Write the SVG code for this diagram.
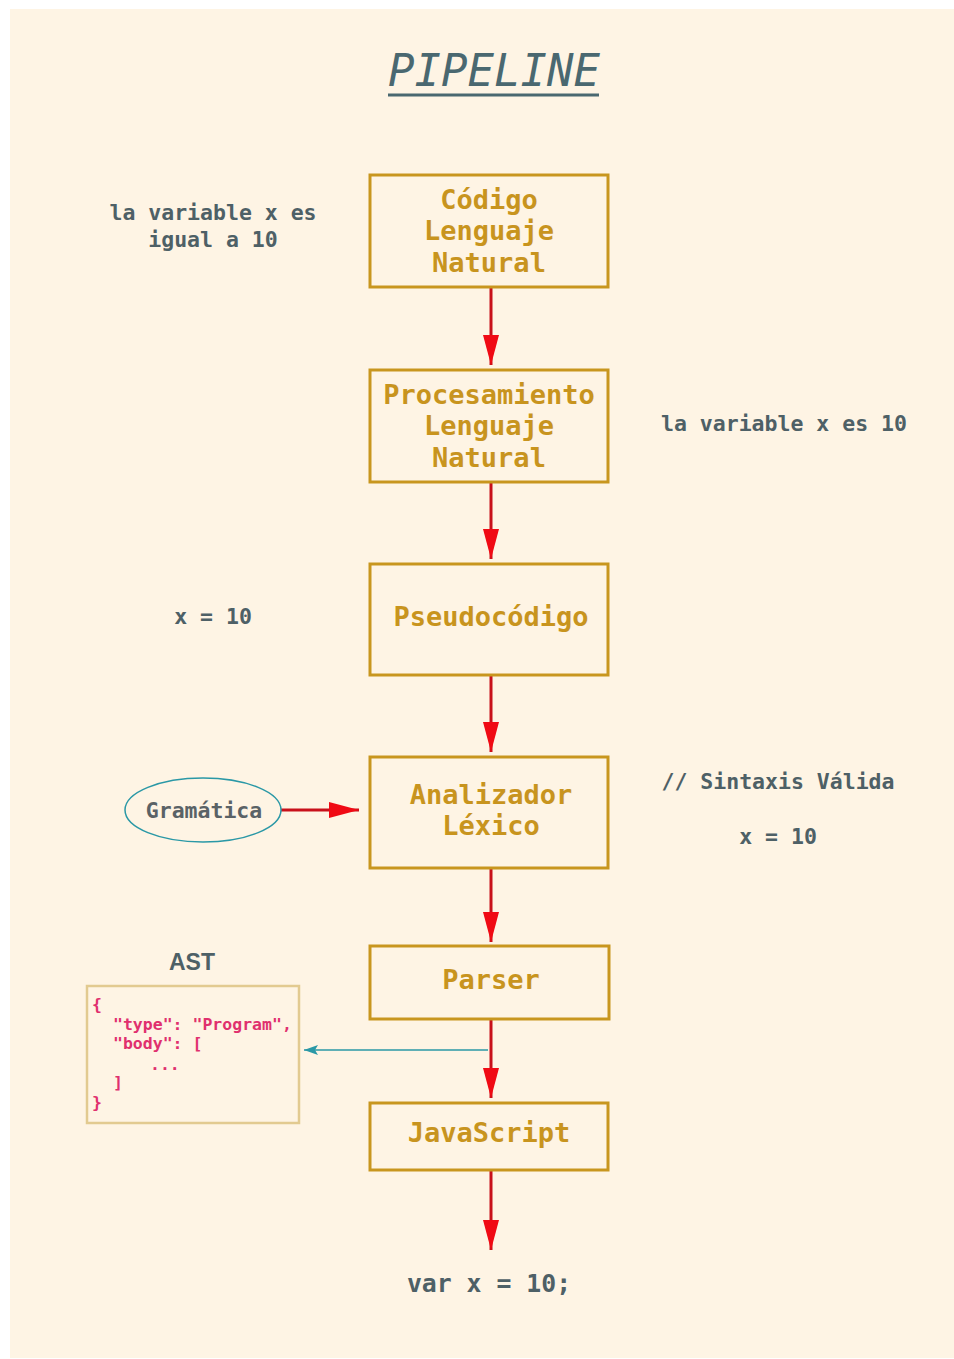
<svg xmlns="http://www.w3.org/2000/svg" width="954" height="1359" viewBox="0 0 954 1359">
<defs>
<style>
.box{fill:none;stroke:#C8961E;stroke-width:3}
.bt{font-family:"DejaVu Sans Mono","Liberation Mono",monospace;font-weight:bold;font-size:27px;fill:#C8941E;text-anchor:middle}
.gt{font-family:"DejaVu Sans Mono","Liberation Mono",monospace;font-weight:bold;font-size:21.5px;fill:#4E6066;text-anchor:middle}
.code{font-family:"DejaVu Sans Mono","Liberation Mono",monospace;font-weight:bold;font-size:16.5px;fill:#E0306E}
.red{stroke:#C8101A;stroke-width:3;fill:none}
</style>
<marker id="ah" viewBox="0 0 30 16" refX="30" refY="8" markerWidth="30" markerHeight="16" markerUnits="userSpaceOnUse" orient="auto">
<path d="M0,0 L30,8 L0,16 Z" fill="#F00A14"/>
</marker>
<marker id="ahT" viewBox="0 0 14 10" refX="14" refY="5" markerWidth="14" markerHeight="10" markerUnits="userSpaceOnUse" orient="auto">
<path d="M0,0 L14,5 L0,10 L3,5 Z" fill="#2A98A6"/>
</marker>
</defs>
<rect x="0" y="0" width="954" height="1359" fill="#FFFFFF"/>
<rect x="10" y="9" width="944" height="1349" fill="#FEF4E4"/>

<g id="title">
<text x="494" y="86" font-family="DejaVu Sans Mono, Liberation Mono, monospace" font-style="italic" font-size="44" fill="#4A6870" text-anchor="middle">PIPELINE</text>
<line x1="388" y1="95" x2="599" y2="95" stroke="#4A6870" stroke-width="3"/>
</g>

<g id="connectors">
<line class="red" x1="491" y1="287" x2="491" y2="365" marker-end="url(#ah)"/>
<line class="red" x1="491" y1="482" x2="491" y2="559" marker-end="url(#ah)"/>
<line class="red" x1="491" y1="675" x2="491" y2="752" marker-end="url(#ah)"/>
<line class="red" x1="491" y1="868" x2="491" y2="942" marker-end="url(#ah)"/>
<line class="red" x1="491" y1="1019" x2="491" y2="1098" marker-end="url(#ah)"/>
<line class="red" x1="491" y1="1170" x2="491" y2="1250" marker-end="url(#ah)"/>
<line class="red" x1="281" y1="810" x2="359" y2="810" marker-end="url(#ah)"/>
<line x1="488" y1="1050" x2="304" y2="1050" stroke="#2A98A6" stroke-width="1.5" marker-end="url(#ahT)"/>
</g>

<g id="codigo">
<rect class="box" x="370" y="175" width="238" height="112"/>
<text class="bt" x="489" y="209">Código</text>
<text class="bt" x="489" y="240">Lenguaje</text>
<text class="bt" x="489" y="272">Natural</text>
</g>
<g id="procesamiento">
<rect class="box" x="370" y="370" width="238" height="112"/>
<text class="bt" x="489" y="404">Procesamiento</text>
<text class="bt" x="489" y="435">Lenguaje</text>
<text class="bt" x="489" y="467">Natural</text>
</g>
<g id="pseudocodigo">
<rect class="box" x="370" y="564" width="238" height="111"/>
<text class="bt" x="491" y="626">Pseudocódigo</text>
</g>
<g id="lexico">
<rect class="box" x="370" y="757" width="238" height="111"/>
<text class="bt" x="491" y="804">Analizador</text>
<text class="bt" x="491" y="835">Léxico</text>
</g>
<g id="parser">
<rect class="box" x="370" y="946" width="239" height="73"/>
<text class="bt" x="491" y="989">Parser</text>
</g>
<g id="javascript">
<rect class="box" x="370" y="1103" width="238" height="67"/>
<text class="bt" x="489" y="1142">JavaScript</text>
</g>

<g id="gramatica">
<ellipse cx="203" cy="810" rx="78" ry="32" fill="none" stroke="#2A98A6" stroke-width="1.5"/>
<text class="gt" x="204" y="818" style="fill:#5A6266">Gramática</text>
</g>

<g id="notes">
<text class="gt" x="213" y="220">la variable x es</text>
<text class="gt" x="213" y="247">igual a 10</text>
<text class="gt" x="784" y="431">la variable x es 10</text>
<text class="gt" x="213" y="624">x = 10</text>
<text class="gt" x="778" y="789">// Sintaxis Válida</text>
<text class="gt" x="778" y="844">x = 10</text>
<text class="gt" x="489" y="1292" style="font-size:24.8px">var x = 10;</text>
</g>

<g id="ast">
<text x="192" y="970" font-family="Liberation Sans, Arial, sans-serif" font-weight="bold" font-size="23" fill="#4E6066" text-anchor="middle">AST</text>
<rect x="87" y="986" width="212" height="137" fill="#FEF4E4" stroke="#E2CA90" stroke-width="2.5"/>
<text class="code" x="92" y="1010">{</text>
<text class="code" x="113" y="1030">"type": "Program",</text>
<text class="code" x="113" y="1049">"body": [</text>
<text class="code" x="150" y="1070">...</text>
<text class="code" x="113" y="1088">]</text>
<text class="code" x="92" y="1108">}</text>
</g>
</svg>
